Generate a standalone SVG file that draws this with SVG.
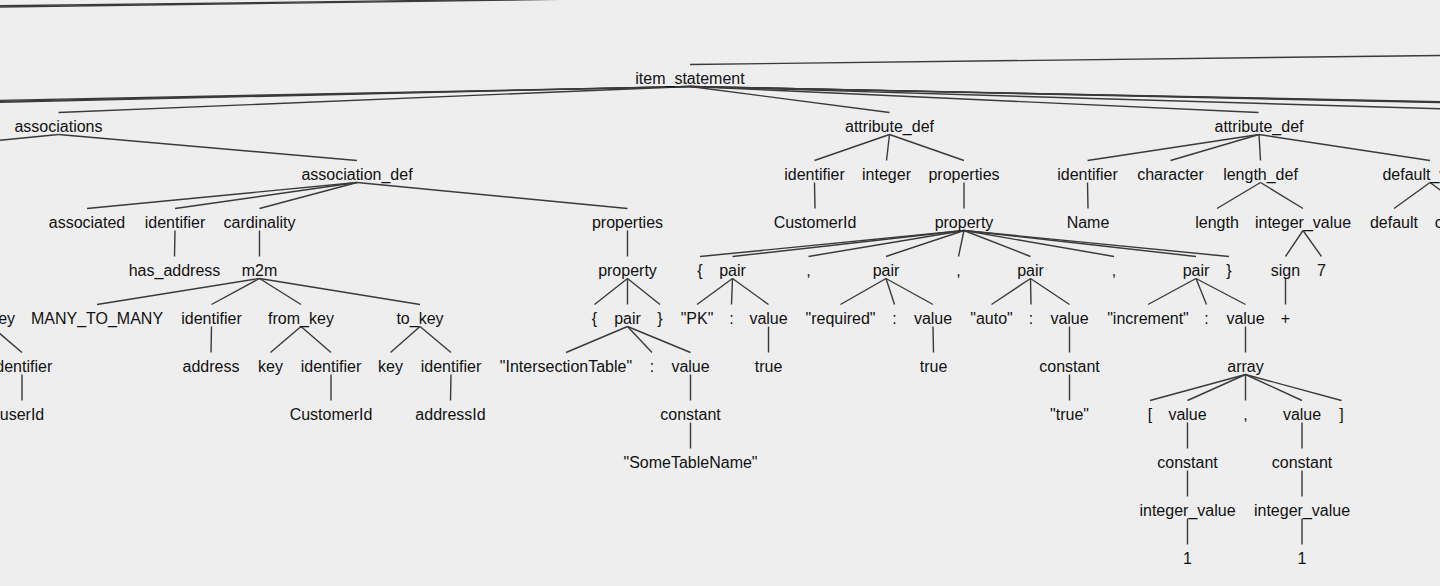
<svg xmlns="http://www.w3.org/2000/svg" width="1440" height="586" viewBox="0 0 1440 586">
<style>
.t{font-family:"Liberation Sans",Arial,sans-serif;font-size:16px;fill:#111;text-anchor:middle}
.e line{stroke:#3a3a3a;stroke-width:1.4;fill:none}
</style>
<rect x="0" y="0" width="1440" height="586" fill="#eeeeee"/>
<g id="connectors" class="e">
<line x1="-10" y1="5.9" x2="560" y2="-1.2"/>
<line x1="-10" y1="7.2" x2="560" y2="-0.6"/>
<line x1="690" y1="64.5" x2="1700" y2="52.4"/>
<line x1="690" y1="86.5" x2="-450" y2="112.5"/>
<line x1="690" y1="86.5" x2="-520" y2="112.5"/>
<line x1="690" y1="86.5" x2="-600" y2="112.5"/>
<line x1="690" y1="86.5" x2="58.5" y2="112.5"/>
<line x1="690" y1="86.5" x2="889.5" y2="112.5"/>
<line x1="690" y1="86.5" x2="1258.5" y2="112.5"/>
<line x1="690" y1="86.5" x2="1565" y2="112.5"/>
<line x1="690" y1="86.5" x2="1900" y2="112.5"/>
<line x1="690" y1="86.5" x2="1935" y2="112.5"/>
<line x1="690" y1="86.5" x2="1970" y2="112.5"/>
<line x1="58.5" y1="134.5" x2="-207" y2="160.5"/>
<line x1="58.5" y1="134.5" x2="357" y2="160.5"/>
<line x1="357" y1="182.5" x2="87" y2="208.5"/>
<line x1="357" y1="182.5" x2="175" y2="208.5"/>
<line x1="357" y1="182.5" x2="259.5" y2="208.5"/>
<line x1="357" y1="182.5" x2="627.5" y2="208.5"/>
<line x1="889.5" y1="134.5" x2="814.5" y2="160.5"/>
<line x1="889.5" y1="134.5" x2="886.5" y2="160.5"/>
<line x1="889.5" y1="134.5" x2="964" y2="160.5"/>
<line x1="1259" y1="134.5" x2="1087.5" y2="160.5"/>
<line x1="1259" y1="134.5" x2="1170.5" y2="160.5"/>
<line x1="1259" y1="134.5" x2="1260.5" y2="160.5"/>
<line x1="1259" y1="134.5" x2="1430" y2="160.5"/>
<line x1="814.5" y1="182.5" x2="815" y2="208.5"/>
<line x1="964" y1="182.5" x2="964" y2="208.5"/>
<line x1="1087.5" y1="182.5" x2="1088" y2="208.5"/>
<line x1="1260.5" y1="182.5" x2="1217" y2="208.5"/>
<line x1="1260.5" y1="182.5" x2="1303" y2="208.5"/>
<line x1="1430" y1="182.5" x2="1394" y2="208.5"/>
<line x1="1430" y1="182.5" x2="1465" y2="208.5"/>
<line x1="175" y1="230.5" x2="174.5" y2="256.5"/>
<line x1="259.5" y1="230.5" x2="259.5" y2="256.5"/>
<line x1="627.5" y1="230.5" x2="627.5" y2="256.5"/>
<line x1="964" y1="230.5" x2="700" y2="256.5"/>
<line x1="964" y1="230.5" x2="732.5" y2="256.5"/>
<line x1="964" y1="230.5" x2="808.5" y2="256.5"/>
<line x1="964" y1="230.5" x2="886" y2="256.5"/>
<line x1="964" y1="230.5" x2="958.5" y2="256.5"/>
<line x1="964" y1="230.5" x2="1030.5" y2="256.5"/>
<line x1="964" y1="230.5" x2="1114" y2="256.5"/>
<line x1="964" y1="230.5" x2="1196" y2="256.5"/>
<line x1="964" y1="230.5" x2="1229" y2="256.5"/>
<line x1="1303" y1="230.5" x2="1285.5" y2="256.5"/>
<line x1="1303" y1="230.5" x2="1321.5" y2="256.5"/>
<line x1="259.5" y1="278.5" x2="97" y2="304.5"/>
<line x1="259.5" y1="278.5" x2="211.5" y2="304.5"/>
<line x1="259.5" y1="278.5" x2="301" y2="304.5"/>
<line x1="259.5" y1="278.5" x2="420" y2="304.5"/>
<line x1="627.5" y1="278.5" x2="594.5" y2="304.5"/>
<line x1="627.5" y1="278.5" x2="627.5" y2="304.5"/>
<line x1="627.5" y1="278.5" x2="660" y2="304.5"/>
<line x1="732.5" y1="278.5" x2="697" y2="304.5"/>
<line x1="732.5" y1="278.5" x2="731.5" y2="304.5"/>
<line x1="732.5" y1="278.5" x2="768.5" y2="304.5"/>
<line x1="886" y1="278.5" x2="840.5" y2="304.5"/>
<line x1="886" y1="278.5" x2="894.5" y2="304.5"/>
<line x1="886" y1="278.5" x2="933" y2="304.5"/>
<line x1="1030.5" y1="278.5" x2="991.5" y2="304.5"/>
<line x1="1030.5" y1="278.5" x2="1031" y2="304.5"/>
<line x1="1030.5" y1="278.5" x2="1069.5" y2="304.5"/>
<line x1="1196" y1="278.5" x2="1148" y2="304.5"/>
<line x1="1196" y1="278.5" x2="1206.5" y2="304.5"/>
<line x1="1196" y1="278.5" x2="1245.5" y2="304.5"/>
<line x1="1285.5" y1="278.5" x2="1285.5" y2="304.5"/>
<line x1="-8.5" y1="326.5" x2="22" y2="352.5"/>
<line x1="211.5" y1="326.5" x2="211" y2="352.5"/>
<line x1="301" y1="326.5" x2="270.5" y2="352.5"/>
<line x1="301" y1="326.5" x2="331" y2="352.5"/>
<line x1="420" y1="326.5" x2="390.5" y2="352.5"/>
<line x1="420" y1="326.5" x2="451" y2="352.5"/>
<line x1="627.5" y1="326.5" x2="566" y2="352.5"/>
<line x1="627.5" y1="326.5" x2="652" y2="352.5"/>
<line x1="627.5" y1="326.5" x2="690.5" y2="352.5"/>
<line x1="768.5" y1="326.5" x2="768.5" y2="352.5"/>
<line x1="933" y1="326.5" x2="933.5" y2="352.5"/>
<line x1="1069.5" y1="326.5" x2="1069.5" y2="352.5"/>
<line x1="1245.5" y1="326.5" x2="1245.5" y2="352.5"/>
<line x1="22" y1="374.5" x2="22" y2="400.5"/>
<line x1="331" y1="374.5" x2="331" y2="400.5"/>
<line x1="451" y1="374.5" x2="450.5" y2="400.5"/>
<line x1="690.5" y1="374.5" x2="690.5" y2="400.5"/>
<line x1="1069.5" y1="374.5" x2="1069.5" y2="400.5"/>
<line x1="1245.5" y1="374.5" x2="1150" y2="400.5"/>
<line x1="1245.5" y1="374.5" x2="1187.5" y2="400.5"/>
<line x1="1245.5" y1="374.5" x2="1245.5" y2="400.5"/>
<line x1="1245.5" y1="374.5" x2="1302" y2="400.5"/>
<line x1="1245.5" y1="374.5" x2="1341.5" y2="400.5"/>
<line x1="690.5" y1="422.5" x2="690.5" y2="448.5"/>
<line x1="1187.5" y1="422.5" x2="1187.5" y2="448.5"/>
<line x1="1302" y1="422.5" x2="1302" y2="448.5"/>
<line x1="1187.5" y1="470.5" x2="1187.5" y2="496.5"/>
<line x1="1302" y1="470.5" x2="1302" y2="496.5"/>
<line x1="1187.5" y1="518.5" x2="1187.5" y2="544.5"/>
<line x1="1302" y1="518.5" x2="1302" y2="544.5"/>
</g>
<g id="n_item_statement"><text class="t" x="690" y="84">item_statement</text></g>
<g id="n_associations"><text class="t" x="58.5" y="132">associations</text></g>
<g id="n_attribute_def_1"><text class="t" x="889.5" y="132">attribute_def</text></g>
<g id="n_attribute_def_2"><text class="t" x="1259" y="132">attribute_def</text></g>
<g id="n_association_def"><text class="t" x="357" y="180">association_def</text></g>
<g id="n_identifier_a1"><text class="t" x="814.5" y="180">identifier</text></g>
<g id="n_integer"><text class="t" x="886.5" y="180">integer</text></g>
<g id="n_properties_a1"><text class="t" x="964" y="180">properties</text></g>
<g id="n_identifier_a2"><text class="t" x="1087.5" y="180">identifier</text></g>
<g id="n_character"><text class="t" x="1170.5" y="180">character</text></g>
<g id="n_length_def"><text class="t" x="1260.5" y="180">length_def</text></g>
<g id="n_default_value"><text class="t" x="1430" y="180">default_value</text></g>
<g id="n_associated"><text class="t" x="87" y="228">associated</text></g>
<g id="n_identifier_ad"><text class="t" x="175" y="228">identifier</text></g>
<g id="n_cardinality"><text class="t" x="259.5" y="228">cardinality</text></g>
<g id="n_properties_ad"><text class="t" x="627.5" y="228">properties</text></g>
<g id="n_customerid_a1"><text class="t" x="815" y="228">CustomerId</text></g>
<g id="n_property_a1"><text class="t" x="964" y="228">property</text></g>
<g id="n_name"><text class="t" x="1088" y="228">Name</text></g>
<g id="n_length"><text class="t" x="1217" y="228">length</text></g>
<g id="n_integer_value_ld"><text class="t" x="1303" y="228">integer_value</text></g>
<g id="n_default"><text class="t" x="1394" y="228">default</text></g>
<g id="n_constant_dv"><text class="t" x="1465" y="228">constant</text></g>
<g id="n_has_address"><text class="t" x="174.5" y="276">has_address</text></g>
<g id="n_m2m"><text class="t" x="259.5" y="276">m2m</text></g>
<g id="n_property_ad"><text class="t" x="627.5" y="276">property</text></g>
<g id="n_lbrace_1"><text class="t" x="700" y="276">{</text></g>
<g id="n_pair_pk"><text class="t" x="732.5" y="276">pair</text></g>
<g id="n_comma_1"><text class="t" x="808.5" y="276">,</text></g>
<g id="n_pair_req"><text class="t" x="886" y="276">pair</text></g>
<g id="n_comma_2"><text class="t" x="958.5" y="276">,</text></g>
<g id="n_pair_auto"><text class="t" x="1030.5" y="276">pair</text></g>
<g id="n_comma_3"><text class="t" x="1114" y="276">,</text></g>
<g id="n_pair_inc"><text class="t" x="1196" y="276">pair</text></g>
<g id="n_rbrace_1"><text class="t" x="1229" y="276">}</text></g>
<g id="n_sign"><text class="t" x="1285.5" y="276">sign</text></g>
<g id="n_seven"><text class="t" x="1321.5" y="276">7</text></g>
<g id="n_to_key_left"><text class="t" x="-8.5" y="324">to_key</text></g>
<g id="n_many_to_many"><text class="t" x="97" y="324">MANY_TO_MANY</text></g>
<g id="n_identifier_m2m"><text class="t" x="211.5" y="324">identifier</text></g>
<g id="n_from_key"><text class="t" x="301" y="324">from_key</text></g>
<g id="n_to_key"><text class="t" x="420" y="324">to_key</text></g>
<g id="n_lbrace_2"><text class="t" x="594.5" y="324">{</text></g>
<g id="n_pair_it"><text class="t" x="627.5" y="324">pair</text></g>
<g id="n_rbrace_2"><text class="t" x="660" y="324">}</text></g>
<g id="n_pk"><text class="t" x="697" y="324">"PK"</text></g>
<g id="n_colon_pk"><text class="t" x="731.5" y="324">:</text></g>
<g id="n_value_pk"><text class="t" x="768.5" y="324">value</text></g>
<g id="n_required"><text class="t" x="840.5" y="324">"required"</text></g>
<g id="n_colon_req"><text class="t" x="894.5" y="324">:</text></g>
<g id="n_value_req"><text class="t" x="933" y="324">value</text></g>
<g id="n_auto"><text class="t" x="991.5" y="324">"auto"</text></g>
<g id="n_colon_auto"><text class="t" x="1031" y="324">:</text></g>
<g id="n_value_auto"><text class="t" x="1069.5" y="324">value</text></g>
<g id="n_increment"><text class="t" x="1148" y="324">"increment"</text></g>
<g id="n_colon_inc"><text class="t" x="1206.5" y="324">:</text></g>
<g id="n_value_inc"><text class="t" x="1245.5" y="324">value</text></g>
<g id="n_plus"><text class="t" x="1285.5" y="324">+</text></g>
<g id="n_identifier_left"><text class="t" x="22" y="372">identifier</text></g>
<g id="n_address"><text class="t" x="211" y="372">address</text></g>
<g id="n_key_from"><text class="t" x="270.5" y="372">key</text></g>
<g id="n_identifier_from"><text class="t" x="331" y="372">identifier</text></g>
<g id="n_key_to"><text class="t" x="390.5" y="372">key</text></g>
<g id="n_identifier_to"><text class="t" x="451" y="372">identifier</text></g>
<g id="n_intersection"><text class="t" x="566" y="372">"IntersectionTable"</text></g>
<g id="n_colon_it"><text class="t" x="652" y="372">:</text></g>
<g id="n_value_it"><text class="t" x="690.5" y="372">value</text></g>
<g id="n_true_pk"><text class="t" x="768.5" y="372">true</text></g>
<g id="n_true_req"><text class="t" x="933.5" y="372">true</text></g>
<g id="n_constant_auto"><text class="t" x="1069.5" y="372">constant</text></g>
<g id="n_array"><text class="t" x="1245.5" y="372">array</text></g>
<g id="n_userid"><text class="t" x="22" y="420">userId</text></g>
<g id="n_customerid_from"><text class="t" x="331" y="420">CustomerId</text></g>
<g id="n_addressid"><text class="t" x="450.5" y="420">addressId</text></g>
<g id="n_constant_it"><text class="t" x="690.5" y="420">constant</text></g>
<g id="n_true_str"><text class="t" x="1069.5" y="420">"true"</text></g>
<g id="n_lbracket"><text class="t" x="1150" y="420">[</text></g>
<g id="n_value_arr1"><text class="t" x="1187.5" y="420">value</text></g>
<g id="n_comma_arr"><text class="t" x="1245.5" y="420">,</text></g>
<g id="n_value_arr2"><text class="t" x="1302" y="420">value</text></g>
<g id="n_rbracket"><text class="t" x="1341.5" y="420">]</text></g>
<g id="n_sometablename"><text class="t" x="690.5" y="468">"SomeTableName"</text></g>
<g id="n_constant_arr1"><text class="t" x="1187.5" y="468">constant</text></g>
<g id="n_constant_arr2"><text class="t" x="1302" y="468">constant</text></g>
<g id="n_integer_value_1"><text class="t" x="1187.5" y="516">integer_value</text></g>
<g id="n_integer_value_2"><text class="t" x="1302" y="516">integer_value</text></g>
<g id="n_one_1"><text class="t" x="1187.5" y="564">1</text></g>
<g id="n_one_2"><text class="t" x="1302" y="564">1</text></g>
</svg>
